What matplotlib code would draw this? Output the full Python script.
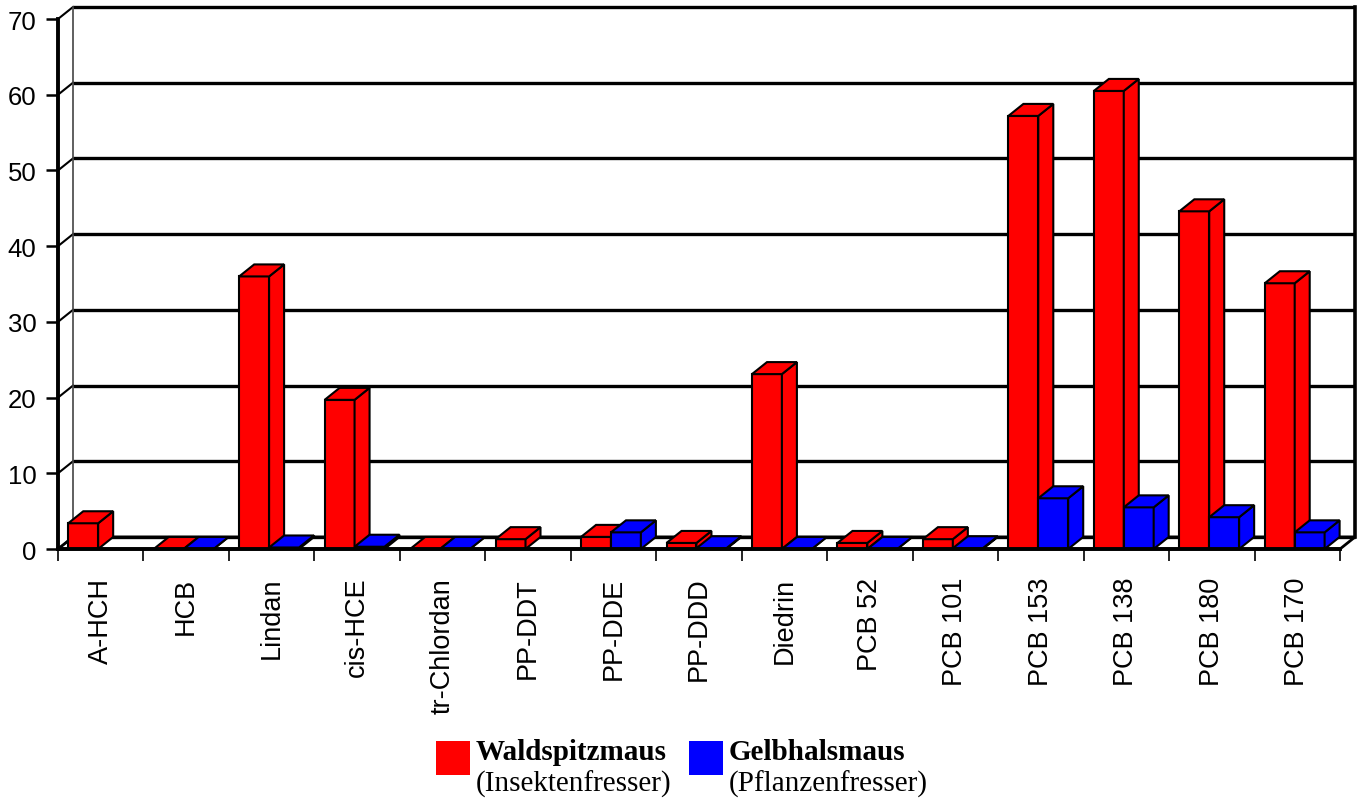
import numpy as np
import matplotlib.pyplot as plt
from matplotlib.patches import Polygon, Rectangle

plt.rcParams['font.family'] = ['Liberation Sans', 'DejaVu Sans']

# Schadstoffe (Kategorien) und Werte je Mausart
substances = ['A-HCH', 'HCB', 'Lindan', 'cis-HCE', 'tr-Chlordan', 'PP-DDT',
              'PP-DDE', 'PP-DDD', 'Diedrin', 'PCB 52', 'PCB 101', 'PCB 153',
              'PCB 138', 'PCB 180', 'PCB 170']
waldspitzmaus = [3.4, 0.0, 36.0, 19.7, 0.0, 1.3, 1.6, 0.8, 23.1, 0.8, 1.3,
                 57.2, 60.5, 44.6, 35.1]
gelbhalsmaus = [np.nan, 0.0, 0.2, 0.3, 0.0, np.nan, 2.2, 0.1, 0.0, 0.0, 0.1,
                6.7, 5.5, 4.2, 2.2]
yticks = [0, 10, 20, 30, 40, 50, 60, 70]

W, H = 1361, 804
fig = plt.figure(figsize=(W / 100, H / 100), dpi=100)
x0_px, x1_px, y0_px, y1_px = 58, 1340, 550, 20
ax = fig.add_axes([x0_px / W, 1 - y0_px / H, (x1_px - x0_px) / W, (y0_px - y1_px) / H])
n = len(substances)
ax.set_xlim(0, n)
ax.set_ylim(0, 70)

# Tiefenversatz fuer den 3D-Effekt (in Datenkoordinaten)
px_x = n / (x1_px - x0_px)
px_y = 70 / (y0_px - y1_px)
dx = 15 * px_x
dy = 12 * px_y

# Boden
ax.add_patch(Polygon([(0, 0), (n, 0), (n + dx, dy), (dx, dy)], closed=True,
                     facecolor='white', edgecolor='black', lw=2, zorder=1, clip_on=False))
# Rueckwand: Gitterlinien und Kanten
for v in yticks:
    ax.plot([dx, n + dx], [v + dy, v + dy], color='black', lw=2.4, zorder=1,
            clip_on=False, solid_capstyle='butt')
    ax.plot([0, dx], [v, v + dy], color='black', lw=1.5, zorder=1, clip_on=False)
ax.plot([dx, dx], [dy, 70 + dy], color='#444444', lw=1.2, zorder=1, clip_on=False)
ax.plot([n + dx, n + dx], [dy, 70 + dy], color='black', lw=2.6, zorder=1, clip_on=False)


def bar3d(x, w, h, color):
    if np.isnan(h):
        return
    kw = dict(closed=True, facecolor=color, edgecolor='black', lw=1.5,
              zorder=3, clip_on=False, joinstyle='miter')
    ax.add_patch(Polygon([(x, 0), (x + w, 0), (x + w, h), (x, h)], **kw))
    ax.add_patch(Polygon([(x + w, 0), (x + w + dx, dy), (x + w + dx, h + dy), (x + w, h)], **kw))
    ax.add_patch(Polygon([(x, h), (x + w, h), (x + w + dx, h + dy), (x + dx, h + dy)], **kw))


bw = 0.35
off = 0.12
for i in range(n):
    bar3d(i + off, bw, waldspitzmaus[i], '#ff0000')
    bar3d(i + off + bw, bw, gelbhalsmaus[i], '#0000ff')

# Achsen
for s in ['top', 'right']:
    ax.spines[s].set_visible(False)
ax.spines['left'].set_linewidth(2.8)
ax.spines['bottom'].set_linewidth(2.8)
ax.spines['left'].set_zorder(5)
ax.spines['bottom'].set_zorder(5)
ax.set_facecolor('none')

ax.set_yticks(yticks)
ax.set_yticklabels([str(v) for v in yticks])
ax.tick_params(axis='y', direction='out', length=8.5, width=1.8, pad=7,
               labelsize=18.5, colors='black')
ax.set_xticks(np.arange(n + 1))
ax.set_xticklabels([])
ax.set_xticks(np.arange(n) + 0.5, minor=True)
ax.set_xticklabels(substances, minor=True, rotation=90, va='top', ha='center')
ax.tick_params(axis='x', which='major', direction='out', length=8.5, width=1.2)
ax.tick_params(axis='x', which='minor', length=0, pad=20, labelsize=19.5)

# Legende
legend_items = [(436, '#ff0000', 'Waldspitzmaus', '(Insektenfresser)'),
                (689, '#0000ff', 'Gelbhalsmaus', '(Pflanzenfresser)')]
for lx, col, name, sub in legend_items:
    fig.add_artist(Rectangle((lx / W, 1 - 776 / H), 34 / W, 34 / H,
                             transform=fig.transFigure, facecolor=col, edgecolor='none'))
    fig.text((lx + 40) / W, 1 - 760 / H, name, family=['Liberation Serif'],
             fontweight='bold', fontsize=21, va='baseline', ha='left')
    fig.text((lx + 40) / W, 1 - 792 / H, sub, family=['Liberation Serif'],
             fontsize=21, va='baseline', ha='left')

fig.savefig('out.png', dpi=100)
